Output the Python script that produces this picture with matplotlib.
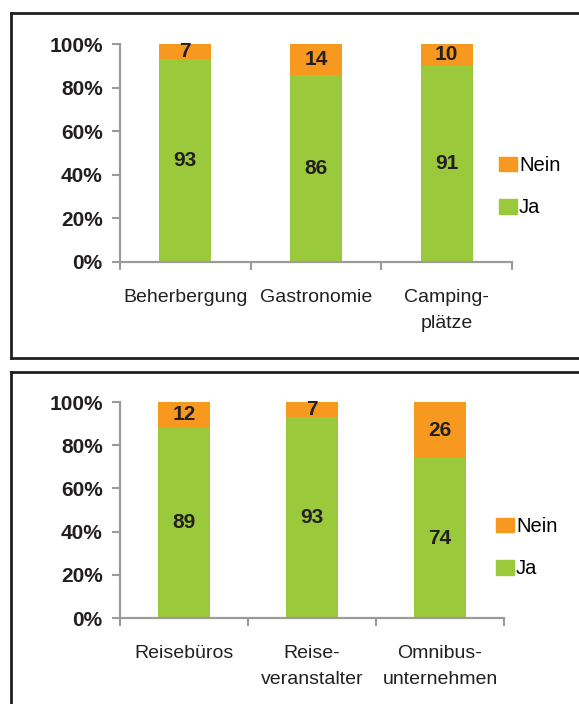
import matplotlib
matplotlib.use("Agg")
import matplotlib.pyplot as plt
from matplotlib.lines import Line2D
from matplotlib.patches import Patch
import numpy as np

plt.rcParams['font.family'] = ['Liberation Sans', 'DejaVu Sans']

# ---- data ----
cats_top = ["Beherbergung", "Gastronomie", "Camping-\nplätze"]
ja_top = [93, 86, 91]
nein_top = [7, 14, 10]

cats_bot = ["Reisebüros", "Reise-\nveranstalter", "Omnibus-\nunternehmen"]
ja_bot = [89, 93, 74]
nein_bot = [12, 7, 26]

series_labels = ["Ja", "Nein"]
yticks = [0, 20, 40, 60, 80, 100]
ytick_labels = ["0%", "20%", "40%", "60%", "80%", "100%"]

GREEN = "#9BC93C"
ORANGE = "#F7991E"
GRAY = "#9B9B9B"
TXT = "#231F20"

W, H = 579, 704
fig = plt.figure(figsize=(W / 100, H / 100), dpi=100)


def px_axes(left, top, right, bottom):
    return fig.add_axes([left / W, 1 - bottom / H, (right - left) / W, (bottom - top) / H])


def draw_panel(ax, cats, ja, nein, legend_xy):
    ja = np.array(ja, float)
    nein = np.array(nein, float)
    tot = ja + nein
    ja_p = ja / tot * 100
    nein_p = nein / tot * 100
    x = np.arange(len(cats))
    bw = 0.4
    ax.bar(x, ja_p, bw, color=GREEN, label=series_labels[0], zorder=2)
    ax.bar(x, nein_p, bw, bottom=ja_p, color=ORANGE, label=series_labels[1], zorder=2)
    for xi, a, b, va, vb in zip(x, ja_p, nein_p, ja, nein):
        ax.text(xi, a / 2, f"{int(va)}", ha="center", va="center", fontsize=15,
                fontweight="bold", color=TXT)
        ax.text(xi, a + b / 2, f"{int(vb)}", ha="center", va="center", fontsize=15,
                fontweight="bold", color=TXT)
    ax.set_xlim(-0.5, len(cats) - 0.5)
    ax.set_ylim(0, 100)
    ax.set_yticks(yticks)
    ax.set_yticklabels(ytick_labels, fontsize=15, fontweight="bold", color=TXT)
    ax.set_xticks(np.arange(len(cats) + 1) - 0.5)
    ax.set_xticklabels([])
    ax.tick_params(axis="x", direction="out", length=6, width=1.5, color=GRAY)
    ax.tick_params(axis="y", direction="out", length=5.5, width=1.5, color=GRAY, pad=7)
    for s in ("top", "right"):
        ax.spines[s].set_visible(False)
    for s in ("left", "bottom"):
        ax.spines[s].set_color(GRAY)
        ax.spines[s].set_linewidth(1.6)
    for xi, c in zip(x, cats):
        ax.annotate(c, xy=(xi, 0), xycoords=("data", "axes fraction"),
                    xytext=(0, -19.5), textcoords="offset points",
                    ha="center", va="top", fontsize=14, color=TXT,
                    linespacing=1.7)
    handles = [Patch(color=ORANGE), Patch(color=GREEN)]
    ax.legend(handles, [series_labels[1], series_labels[0]], loc="upper left",
              bbox_to_anchor=legend_xy, bbox_transform=fig.transFigure,
              frameon=False, fontsize=14.5, handlelength=0.9, handleheight=0.75,
              handletextpad=0.1, labelspacing=1.15, borderpad=0, borderaxespad=0)


ax1 = px_axes(120, 44, 512, 262)
draw_panel(ax1, cats_top, ja_top, nein_top, (499 / W, 1 - 156 / H))
ax2 = px_axes(120, 402, 504, 618)
draw_panel(ax2, cats_bot, ja_bot, nein_bot, (496 / W, 1 - 517 / H))

# panel frames
lw = 2.0
def fline(xs, ys):
    fig.add_artist(Line2D([v / W for v in xs], [1 - v / H for v in ys],
                          color=TXT, lw=lw, transform=fig.transFigure))

fline([11, 578], [13, 13])
fline([11, 11], [13, 358])
fline([11, 578], [358, 358])
fline([11, 578], [372, 372])
fline([11, 11], [372, 704])

fig.savefig("out.png", dpi=100)
